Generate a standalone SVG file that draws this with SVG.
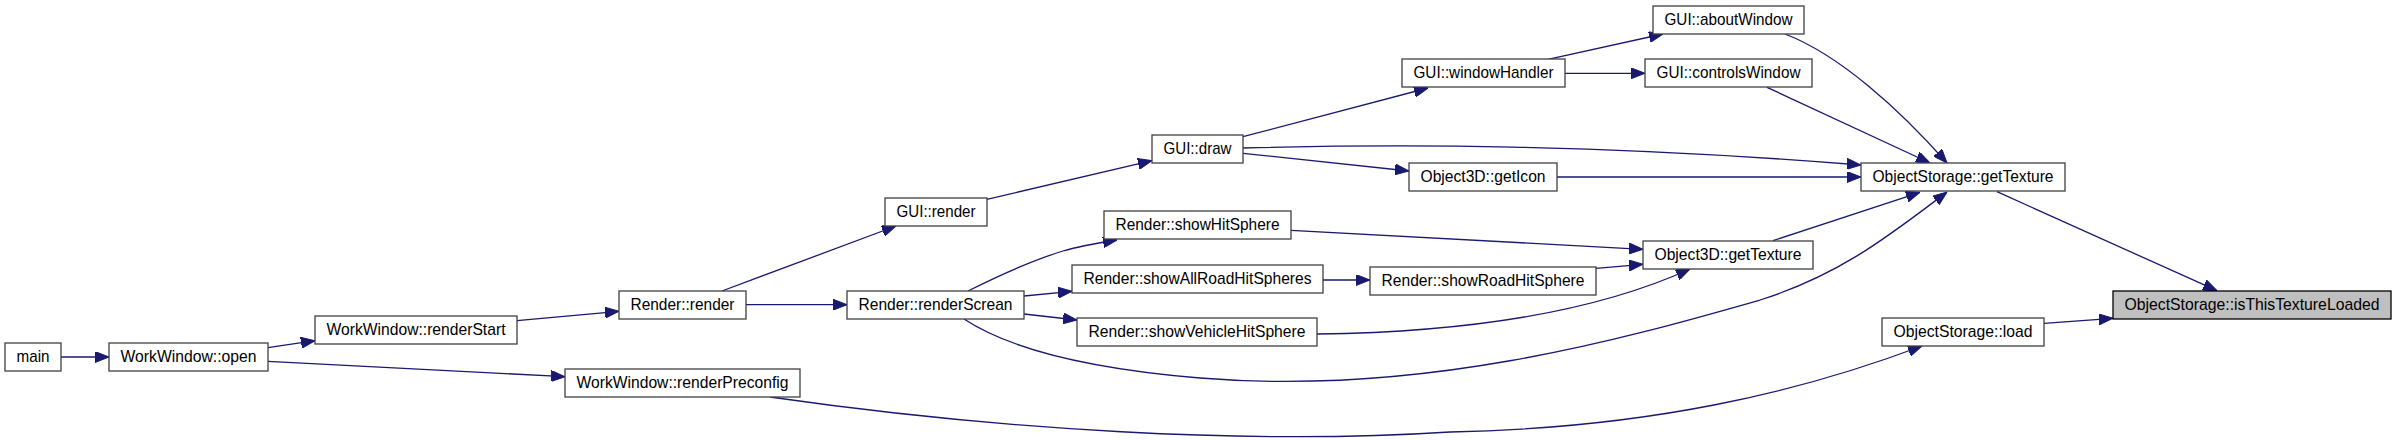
<svg xmlns="http://www.w3.org/2000/svg" width="2396" height="440" viewBox="0 0 2396 440">
<style>
.n rect{fill:#ffffff;stroke:#404040;stroke-width:1.3}
.n.hl rect{fill:#bfbfbf;stroke:#000000}
.n text{font-family:"Liberation Sans",Arial,sans-serif;font-size:17px;fill:#000000;text-anchor:middle}
.e path{fill:none;stroke:#191970;stroke-width:1.3;marker-end:url(#ah)}
</style>
<defs>
<marker id="ah" markerUnits="userSpaceOnUse" markerWidth="14" markerHeight="11" viewBox="0 0 14 11" refX="14" refY="5.5" orient="auto">
<path d="M0,0 L14,5.5 L0,11 Z" fill="#191970" stroke="#191970" stroke-width="1"/>
</marker>
</defs>
<rect width="2396" height="440" fill="#ffffff"/>
<g id="edges" class="e">
<path d="M61,357 L109,357"/>
<path d="M268,347.7 L315,340.7"/>
<path d="M268,361.3 L565,376.7"/>
<path d="M517,320.7 L619,311.3"/>
<path d="M746,304.7 L847,304.7"/>
<path d="M722,291 L896,226"/>
<path d="M987,199.3 L1152,160.7"/>
<path d="M1243,136.7 L1428,88"/>
<path d="M1243,148 C1400,144 1600,144 1861,165"/>
<path d="M1243,153.3 L1409,171"/>
<path d="M1548,59.3 L1663,34"/>
<path d="M1565,73.3 L1645,73.3"/>
<path d="M1785,34 C1840,55 1900,110 1947,163"/>
<path d="M1767,87.3 L1930,163"/>
<path d="M1557,177 L1861,177"/>
<path d="M968,291 C998,276 1030,261 1063,251 C1080,246 1098,243 1117,240"/>
<path d="M1024,296 L1072,291.3"/>
<path d="M1024,314 L1077,320"/>
<path d="M964,319 C1005,346 1080,368 1200,378 C1420,396 1620,340 1760,300 C1840,275 1890,235 1947,192"/>
<path d="M1291,230.3 L1643,249.3"/>
<path d="M1323,280 L1370,280"/>
<path d="M1596,268.3 L1643,264.3"/>
<path d="M1317,334 C1480,332 1600,310 1690,269"/>
<path d="M1773,240.7 L1920,192.3"/>
<path d="M1997,191.7 L2217,290.7"/>
<path d="M2044,323.3 L2113,318.3"/>
<path d="M770,397 C1000,430 1250,445 1450,432 C1650,428 1800,392 1922,346"/>
</g>
<g id="n_main" class="n"><rect x="5" y="343" width="56" height="28"/><text x="33" y="362" textLength="33" lengthAdjust="spacingAndGlyphs">main</text></g>
<g id="n_open" class="n"><rect x="109" y="343" width="159" height="28"/><text x="188.5" y="362" textLength="136" lengthAdjust="spacingAndGlyphs">WorkWindow::open</text></g>
<g id="n_renderStart" class="n"><rect x="315" y="316" width="202" height="28"/><text x="416" y="335" textLength="179" lengthAdjust="spacingAndGlyphs">WorkWindow::renderStart</text></g>
<g id="n_renderPreconfig" class="n"><rect x="565" y="369" width="235" height="28"/><text x="682.5" y="388" textLength="212" lengthAdjust="spacingAndGlyphs">WorkWindow::renderPreconfig</text></g>
<g id="n_render" class="n"><rect x="619" y="291" width="127" height="28"/><text x="682.5" y="310" textLength="104" lengthAdjust="spacingAndGlyphs">Render::render</text></g>
<g id="n_renderScrean" class="n"><rect x="847" y="291" width="177" height="28"/><text x="935.5" y="310" textLength="154" lengthAdjust="spacingAndGlyphs">Render::renderScrean</text></g>
<g id="n_guiRender" class="n"><rect x="885" y="198" width="102" height="28"/><text x="936" y="217" textLength="79" lengthAdjust="spacingAndGlyphs">GUI::render</text></g>
<g id="n_guiDraw" class="n"><rect x="1152" y="135" width="91" height="28"/><text x="1197.5" y="154" textLength="68" lengthAdjust="spacingAndGlyphs">GUI::draw</text></g>
<g id="n_showHitSphere" class="n"><rect x="1104" y="211" width="187" height="28"/><text x="1197.5" y="230" textLength="164" lengthAdjust="spacingAndGlyphs">Render::showHitSphere</text></g>
<g id="n_showAllRoadHitSpheres" class="n"><rect x="1072" y="265" width="251" height="28"/><text x="1197.5" y="284" textLength="228" lengthAdjust="spacingAndGlyphs">Render::showAllRoadHitSpheres</text></g>
<g id="n_showVehicleHitSphere" class="n"><rect x="1077" y="318" width="240" height="28"/><text x="1197" y="337" textLength="217" lengthAdjust="spacingAndGlyphs">Render::showVehicleHitSphere</text></g>
<g id="n_windowHandler" class="n"><rect x="1402" y="59" width="163" height="28"/><text x="1483.5" y="78" textLength="140" lengthAdjust="spacingAndGlyphs">GUI::windowHandler</text></g>
<g id="n_aboutWindow" class="n"><rect x="1653" y="6" width="151" height="28"/><text x="1728.5" y="25" textLength="128" lengthAdjust="spacingAndGlyphs">GUI::aboutWindow</text></g>
<g id="n_controlsWindow" class="n"><rect x="1645" y="59" width="167" height="28"/><text x="1728.5" y="78" textLength="144" lengthAdjust="spacingAndGlyphs">GUI::controlsWindow</text></g>
<g id="n_getIcon" class="n"><rect x="1409" y="163" width="148" height="28"/><text x="1483" y="182" textLength="125" lengthAdjust="spacingAndGlyphs">Object3D::getIcon</text></g>
<g id="n_showRoadHitSphere" class="n"><rect x="1370" y="267" width="226" height="28"/><text x="1483" y="286" textLength="203" lengthAdjust="spacingAndGlyphs">Render::showRoadHitSphere</text></g>
<g id="n_obj3dGetTexture" class="n"><rect x="1643" y="241" width="170" height="28"/><text x="1728" y="260" textLength="147" lengthAdjust="spacingAndGlyphs">Object3D::getTexture</text></g>
<g id="n_storageGetTexture" class="n"><rect x="1861" y="163" width="204" height="28"/><text x="1963" y="182" textLength="181" lengthAdjust="spacingAndGlyphs">ObjectStorage::getTexture</text></g>
<g id="n_storageLoad" class="n"><rect x="1882" y="318" width="162" height="28"/><text x="1963" y="337" textLength="139" lengthAdjust="spacingAndGlyphs">ObjectStorage::load</text></g>
<g id="n_isThisTextureLoaded" class="n hl"><rect x="2113" y="291" width="278" height="28"/><text x="2252" y="310" textLength="255" lengthAdjust="spacingAndGlyphs">ObjectStorage::isThisTextureLoaded</text></g>
</svg>
